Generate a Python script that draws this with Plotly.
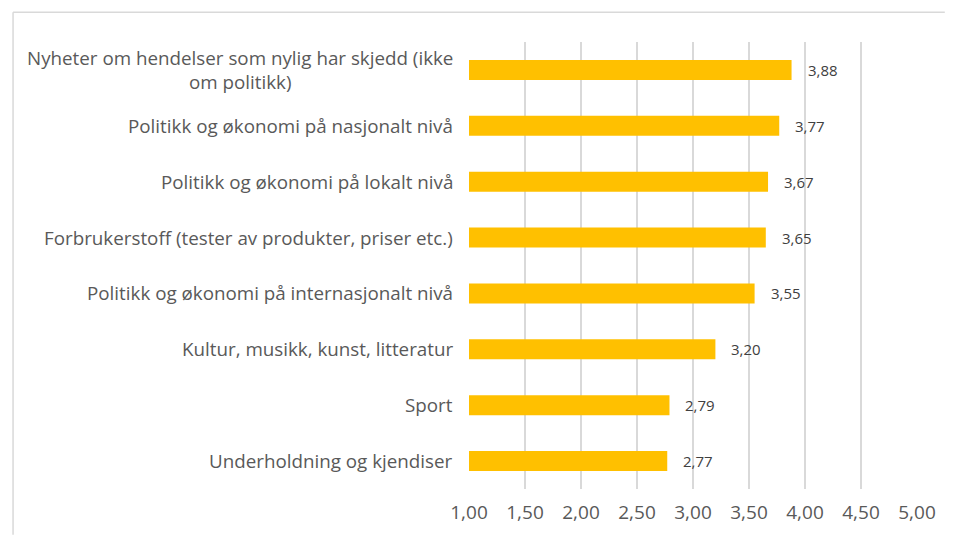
import plotly.graph_objects as go

# categories listed top to bottom as in the chart
categories = [
    "Nyheter om hendelser som nylig har skjedd (ikke<br>om politikk)",
    "Politikk og økonomi på nasjonalt nivå",
    "Politikk og økonomi på lokalt nivå",
    "Forbrukerstoff (tester av produkter, priser etc.)",
    "Politikk og økonomi på internasjonalt nivå",
    "Kultur, musikk, kunst, litteratur",
    "Sport",
    "Underholdning og kjendiser",
]
values = [3.88, 3.77, 3.67, 3.65, 3.55, 3.20, 2.79, 2.77]
tick_values = [1.0, 1.5, 2.0, 2.5, 3.0, 3.5, 4.0, 4.5, 5.0]

BAR_COLOR = "#FFC000"
TEXT_COLOR = "#595959"
GRID_COLOR = "#D9D9D9"
FONT = "Open Sans"

# the page body adds an 8px margin on every side, so size the figure to fit
OFF = 8
W, H = 956 - 2 * OFF, 545 - 2 * OFF
ML, MT = 469 - OFF, 42 - OFF
MR = W - (920 - OFF)
MB = H - (491 - OFF)
PW, PH = W - ML - MR, H - MT - MB

fig = go.Figure(
    go.Bar(
        x=values,
        y=categories,
        orientation="h",
        marker=dict(color=BAR_COLOR, line=dict(width=0)),
        hoverinfo="skip",
    )
)

# category labels (centered multi-line, right anchored next to the plot)
for cat in categories:
    fig.add_annotation(
        x=0, xref="paper", y=cat, yref="y",
        text=cat, showarrow=False,
        xanchor="right", xshift=-14, align="center",
        font=dict(family=FONT, size=18.8, color=TEXT_COLOR),
    )

# data labels
for cat, v in zip(categories, values):
    fig.add_annotation(
        x=v, xref="x", y=cat, yref="y",
        text=f"{v:.2f}".replace(".", ","), showarrow=False,
        xanchor="left", xshift=14,
        font=dict(family=FONT, size=15, color="#404040"),
    )

# chart border: only its top and left edges fall inside the crop
bx0 = (10 - OFF - ML) / PW
by1 = (MT + PH - (12 - OFF)) / PH
fig.add_shape(type="line", xref="paper", yref="paper",
              x0=bx0, x1=(W - ML) / PW, y0=by1, y1=by1,
              line=dict(color=GRID_COLOR, width=1.5), layer="below")
fig.add_shape(type="line", xref="paper", yref="paper",
              x0=bx0, x1=bx0, y0=-MB / PH, y1=by1,
              line=dict(color=GRID_COLOR, width=1.5), layer="below")

fig.update_layout(
    width=W, height=H,
    margin=dict(l=ML, r=MR, t=MT, b=MB),
    paper_bgcolor="white", plot_bgcolor="white",
    separators=", ",
    bargap=0.64,
    showlegend=False,
    font=dict(family=FONT, color=TEXT_COLOR),
)
fig.update_xaxes(
    range=[1, 5],
    tickvals=tick_values,
    tickformat=".2f",
    showgrid=True, gridcolor=GRID_COLOR, gridwidth=1.5,
    zeroline=False, showline=False, ticks="",
    tickfont=dict(family=FONT, size=19, color=TEXT_COLOR),
    ticklabelstandoff=10,
)
fig.update_yaxes(
    autorange="reversed",
    showticklabels=False,
    showgrid=False, zeroline=False, showline=False, ticks="",
)

fig.write_html("out.html")
